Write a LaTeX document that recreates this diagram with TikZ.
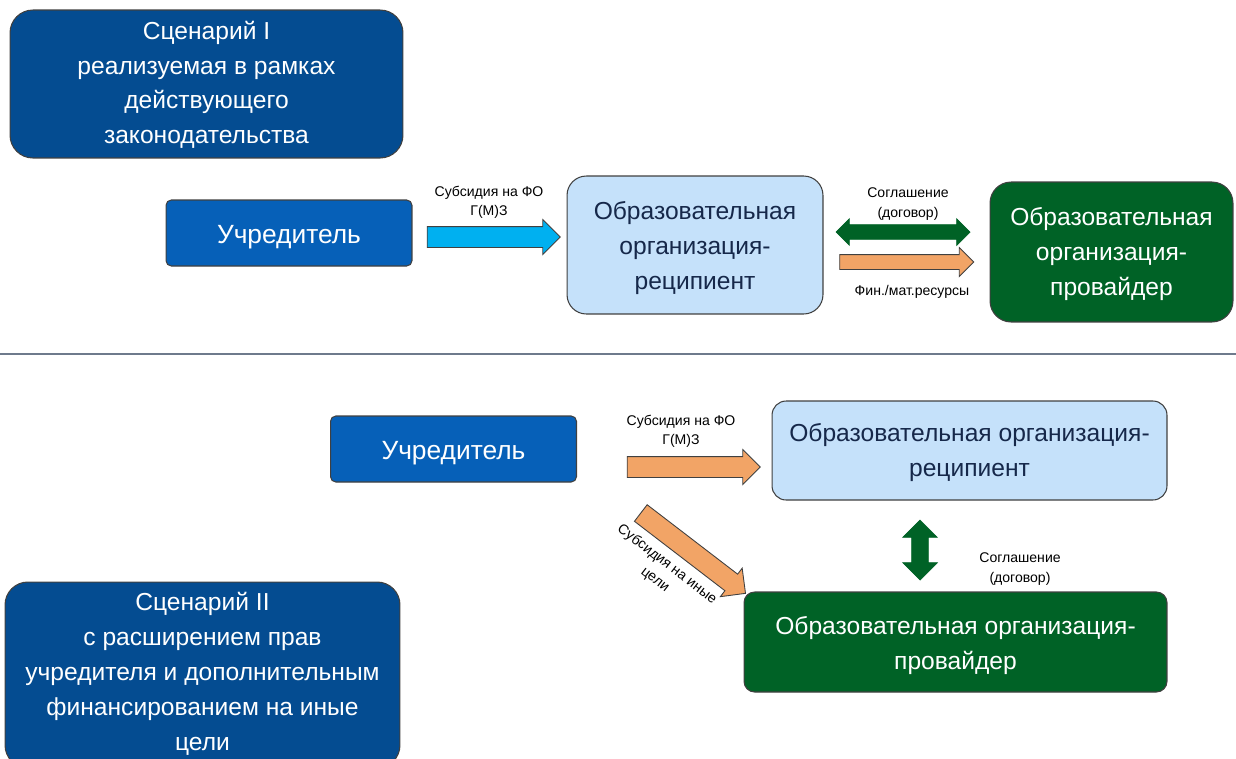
\documentclass[tikz,border=0pt]{standalone}
\usepackage{fontspec}
\setmainfont{Liberation Sans}
\usetikzlibrary{shapes.arrows}
\definecolor{scenblue}{RGB}{4,76,145}
\definecolor{uchrblue}{RGB}{6,96,184}
\definecolor{recipblue}{RGB}{197,225,250}
\definecolor{recipnavy}{RGB}{22,40,74}
\definecolor{provgreen}{RGB}{0,98,38}
\definecolor{arrorange}{RGB}{242,164,102}
\definecolor{arrcyan}{RGB}{0,176,240}
\definecolor{sepgray}{RGB}{110,122,140}
\begin{document}
\begin{tikzpicture}[x=0.02cm,y=-0.02cm,
    box/.style={draw=black!75,line width=0.6pt,align=center,inner sep=0pt},
    scen/.style={box,fill=scenblue,text=white,rounded corners=13pt,font=\fontsize{14}{19.8}\selectfont},
    uchr/.style={box,fill=uchrblue,text=white,rounded corners=3pt,minimum width=4.92cm,minimum height=1.32cm,text height=15.5pt,font=\fontsize{15}{18}\selectfont},
    recip/.style={box,fill=recipblue,text=recipnavy,font=\fontsize{14}{19.8}\selectfont},
    prov/.style={box,fill=provgreen,text=white,font=\fontsize{14}{19.8}\selectfont},
    lbl/.style={font=\fontsize{8}{11}\selectfont,align=center,inner sep=0pt},
    barrow/.style={single arrow,draw=black!75,line width=0.5pt,inner xsep=0pt,single arrow head indent=0pt},
    darrow/.style={double arrow,draw=provgreen,fill=provgreen,inner xsep=0pt,double arrow head indent=0pt}]
  \useasboundingbox (0,0) rectangle (1236,758);
  \clip (0,0) rectangle (1236,758);
  \node [scen,text height=70.8pt,minimum width=7.86cm,minimum height=2.96cm] (scenOne) at (206.5,84)
    {Сценарий I\\реализуемая в рамках\\действующего\\законодательства};
  \node [uchr] (uchrOne) at (289,233) {Учредитель};
  \node [recip,text height=53.3pt,rounded corners=11pt,minimum width=5.12cm,minimum height=2.76cm] (recipOne) at (695,245)
    {Образовательная\\организация-\\реципиент};
  \node [prov,text height=52.1pt,rounded corners=12pt,minimum width=4.86cm,minimum height=2.8cm] (provOne) at (1111.5,252)
    {Образовательная\\организация-\\провайдер};
  \node [barrow,fill=arrcyan,inner ysep=0.2cm,single arrow head extend=0.14cm,minimum height=2.66cm] (subOne) at (488.5,237) {};
  \node [lbl] (lblSubOne) at (489,202) {Субсидия на ФО\\Г(М)З};
  \node [darrow,inner ysep=0.14cm,double arrow head extend=0.12cm,minimum height=2.68cm] (agrOne) at (903,232) {};
  \node [barrow,fill=arrorange,inner ysep=0.14cm,single arrow head extend=0.14cm,minimum height=2.68cm] (finOne) at (903,262) {};
  \node [lbl] (lblAgrOne) at (908,204) {Соглашение\\(договор)};
  \node [lbl] (lblFinOne) at (912,292) {Фин./мат.ресурсы};
  \draw [sepgray,line width=1.2pt] (0,354) -- (1236,354);
  \node [uchr] (uchrTwo) at (453.5,449) {Учредитель};
  \node [recip,text height=32.3pt,rounded corners=8pt,minimum width=7.9cm,minimum height=1.98cm] (recipTwo) at (969.5,450.5)
    {Образовательная организация-\\реципиент};
  \node [prov,text height=34pt,rounded corners=6pt,minimum width=8.46cm,minimum height=2cm] (provTwo) at (955.5,642)
    {Образовательная организация-\\провайдер};
  \node [scen,text height=88.3pt,minimum width=7.9cm,minimum height=3.72cm] (scenTwo) at (202.5,675)
    {Сценарий II\\с расширением прав\\учредителя и дополнительным\\финансированием на иные\\цели};
  \node [barrow,fill=arrorange,inner ysep=0.2cm,single arrow head extend=0.14cm,minimum height=2.66cm] (subTwo) at (688.5,467) {};
  \node [lbl] (lblSubTwo) at (681,431) {Субсидия на ФО\\Г(М)З};
  \node [barrow,fill=arrorange,rotate=-37.5,inner ysep=0.2cm,single arrow head extend=0.15cm,minimum height=2.64cm] (subOther) at (689,550) {};
  \node [lbl,rotate=-37.5] (lblSubOther) at (661,572) {Субсидия на иные\\цели};
  \node [darrow,rotate=90,inner ysep=0.16cm,double arrow head extend=0.18cm,minimum height=1.2cm] (agrTwo) at (920,550) {};
  \node [lbl] (lblAgrTwo) at (1020,569) {Соглашение\\(договор)};
\end{tikzpicture}
\end{document}
